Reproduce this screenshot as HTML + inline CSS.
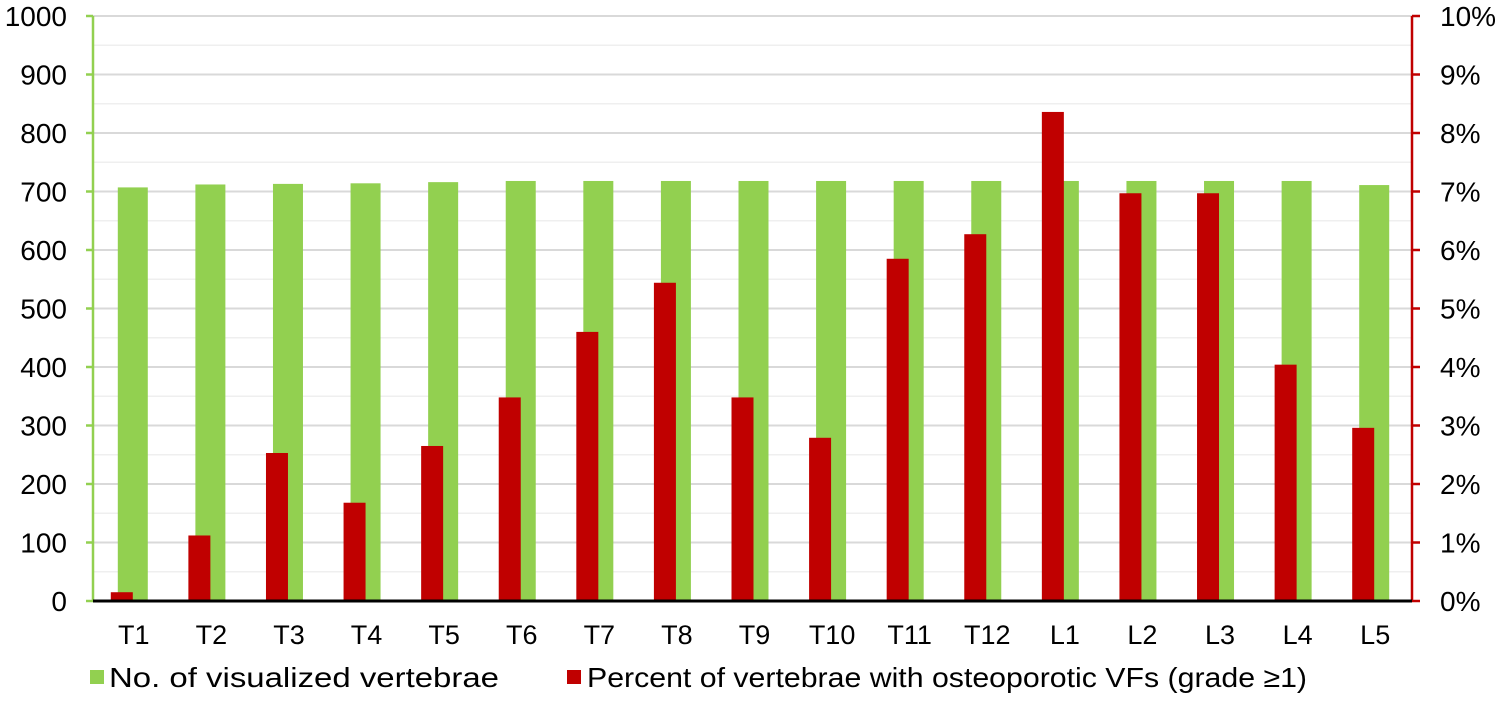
<!DOCTYPE html>
<html><head><meta charset="utf-8"><style>
body{margin:0;background:#fff;font-family:"Liberation Sans",sans-serif}
</style></head><body>
<svg id="chart" width="1504" height="723" xmlns="http://www.w3.org/2000/svg" font-family="Liberation Sans, sans-serif"></svg>
<script>
const categories=["T1","T2","T3","T4","T5","T6","T7","T8","T9","T10","T11","T12","L1","L2","L3","L4","L5"];
const visualized=[707,712,713,714,716,718,718,718,718,718,718,718,718,718,718,718,711];
const percentVF=[0.15,1.12,2.53,1.68,2.65,3.48,4.6,5.44,3.48,2.79,5.85,6.27,8.36,6.97,6.97,4.04,2.96];
const leftTicks=[0,100,200,300,400,500,600,700,800,900,1000];
const rightTicks=["0%","1%","2%","3%","4%","5%","6%","7%","8%","9%","10%"];
const svg=document.getElementById('chart');
const NS='http://www.w3.org/2000/svg';
const X0=93,X1=1412,Y0=601,Y1=16;
const cw=(X1-X0)/categories.length;
const yL=v=>Y0-(v/1000)*(Y0-Y1);
const yR=p=>Y0-(p/10)*(Y0-Y1);
const xC=i=>X0+cw*(i+0.5);
function mk(t,a,parent){const e=document.createElementNS(NS,t);for(const k in a)e.setAttribute(k,a[k]);(parent||svg).appendChild(e);return e;}
for(let v=50;v<=1000;v+=50){
const g=mk('line',{x1:X0,x2:X1,y1:yL(v),y2:yL(v),stroke:v%100===0?'#d9d9d9':'#efefef','stroke-width':v%100===0?2:1.5});

}
categories.forEach((c,i)=>{
const g=mk('rect',{x:xC(i)-14,y:yL(visualized[i]),width:30,height:Y0-yL(visualized[i]),fill:'#92d050'});


const r=mk('rect',{x:xC(i)-21,y:yR(percentVF[i]),width:22,height:Y0-yR(percentVF[i]),fill:'#c00000'});


const t=mk('text',{x:xC(i)+2,y:644,'font-size':27,'text-anchor':'middle',fill:'#000'});t.textContent=c;


});
let a=mk('line',{x1:X0,x2:X0,y1:Y1,y2:Y0,stroke:'#92d050','stroke-width':2.5});

a=mk('line',{x1:X1,x2:X1,y1:Y1,y2:Y0,stroke:'#c00000','stroke-width':2.5});

leftTicks.forEach((v,i)=>{
mk('line',{x1:X0-7,x2:X0,y1:yL(v),y2:yL(v),stroke:'#92d050','stroke-width':2.5});
const t=mk('text',{x:67,y:yL(v)+10,'font-size':28,'text-anchor':'end'});t.textContent=v;

mk('line',{x1:X1,x2:X1+8,y1:yL(v),y2:yL(v),stroke:'#c00000','stroke-width':2.5});
const r=mk('text',{x:1440,y:yL(v)+10,'font-size':28});r.textContent=rightTicks[i];

});
a=mk('line',{x1:X0,x2:X1,y1:Y0,y2:Y0,stroke:'#000','stroke-width':3});

let l=mk('rect',{x:90,y:670,width:14,height:14,fill:'#92d050'});

l=mk('text',{x:109,y:687,'font-size':28,textLength:390,lengthAdjust:'spacingAndGlyphs'});l.textContent='No. of visualized vertebrae';

l=mk('rect',{x:567,y:670,width:14,height:14,fill:'#c00000'});

l=mk('text',{x:587,y:687,'font-size':28,textLength:720,lengthAdjust:'spacingAndGlyphs'});l.textContent='Percent of vertebrae with osteoporotic VFs (grade ≥1)';

</script>
</body></html>
